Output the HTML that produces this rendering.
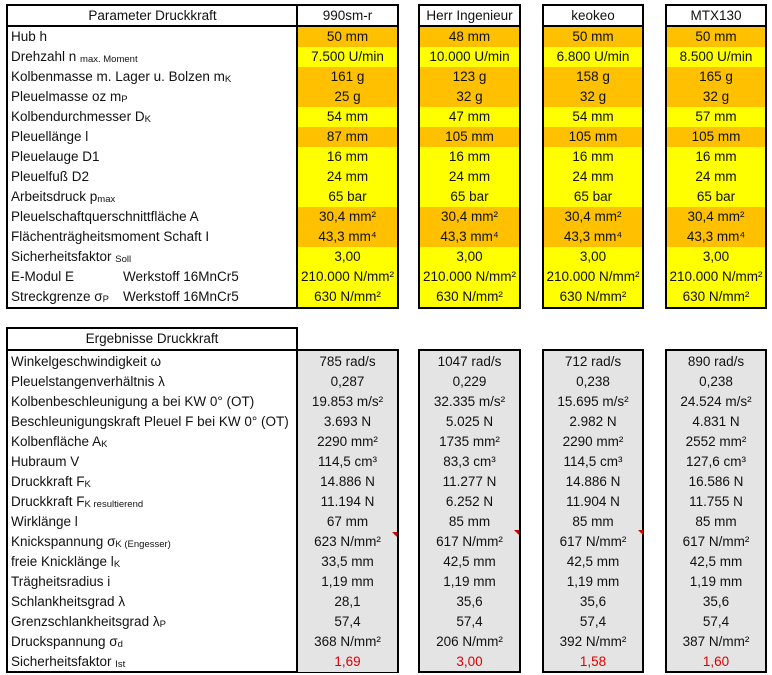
<!DOCTYPE html>
<html><head><meta charset="utf-8"><style>
body{margin:0;width:772px;height:675px;background:#fff;font-family:"Liberation Sans",sans-serif;font-size:13.5px;color:#111;position:relative;overflow:hidden}
.box{position:absolute;border:2px solid #000;box-sizing:border-box;overflow:hidden}
.r{height:20px;line-height:20px;white-space:nowrap;position:relative}
.c{text-align:center}
.l{padding-left:3px}
.o{background:#ffc000}.y{background:#ffff00}.g{background:#e4e4e4}
.hd{height:19px;line-height:19px;text-align:center;border-bottom:2px solid #000;background:#fff}
sub{font-size:9.5px;vertical-align:-1px}
.red{color:#e00000}
.w{position:absolute;left:115px;top:0}
.tri{position:absolute;width:0;height:0;border-top:5px solid #c00;border-left:5px solid transparent}
</style></head><body>
<div class="box" style="left:6px;top:4px;width:393px;height:305px"></div>
<div style="position:absolute;left:8px;top:6px;width:289px">
<div class="hd">Parameter Druckkraft</div>
<div class="r l">Hub h</div>
<div class="r l">Drehzahl n <sub>max. Moment</sub></div>
<div class="r l">Kolbenmasse m. Lager u. Bolzen m<sub>K</sub></div>
<div class="r l">Pleuelmasse oz m<sub>P</sub></div>
<div class="r l">Kolbendurchmesser D<sub>K</sub></div>
<div class="r l">Pleuellänge l</div>
<div class="r l">Pleuelauge D1</div>
<div class="r l">Pleuelfuß D2</div>
<div class="r l">Arbeitsdruck p<sub>max</sub></div>
<div class="r l">Pleuelschaftquerschnittfläche A</div>
<div class="r l">Flächenträgheitsmoment Schaft I</div>
<div class="r l">Sicherheitsfaktor <sub>Soll</sub></div>
<div class="r l">E-Modul E<span class="w">Werkstoff 16MnCr5</span></div>
<div class="r l">Streckgrenze σ<sub>P</sub><span class="w">Werkstoff 16MnCr5</span></div>
</div>
<div style="position:absolute;left:296px;top:4px;width:2px;height:305px;background:#000"></div>
<div style="position:absolute;left:298px;top:6px;width:99px">
<div class="hd">990sm-r</div>
<div class="r c o">50 mm</div><div class="r c y">7.500 U/min</div><div class="r c o">161 g</div><div class="r c o">25 g</div><div class="r c y">54 mm</div><div class="r c o">87 mm</div><div class="r c y">16 mm</div><div class="r c y">24 mm</div><div class="r c y">65 bar</div><div class="r c o">30,4 mm²</div><div class="r c o">43,3 mm⁴</div><div class="r c y">3,00</div><div class="r c y">210.000 N/mm²</div><div class="r c y">630 N/mm²</div>
</div>
<div class="box" style="left:418px;top:4px;width:103px;height:305px">
<div class="hd">Herr Ingenieur</div>
<div class="r c o">48 mm</div><div class="r c y">10.000 U/min</div><div class="r c o">123 g</div><div class="r c o">32 g</div><div class="r c y">47 mm</div><div class="r c o">105 mm</div><div class="r c y">16 mm</div><div class="r c y">24 mm</div><div class="r c y">65 bar</div><div class="r c o">30,4 mm²</div><div class="r c o">43,3 mm⁴</div><div class="r c y">3,00</div><div class="r c y">210.000 N/mm²</div><div class="r c y">630 N/mm²</div>
</div>
<div class="box" style="left:542px;top:4px;width:102px;height:305px">
<div class="hd">keokeo</div>
<div class="r c o">50 mm</div><div class="r c y">6.800 U/min</div><div class="r c o">158 g</div><div class="r c o">32 g</div><div class="r c y">54 mm</div><div class="r c o">105 mm</div><div class="r c y">16 mm</div><div class="r c y">24 mm</div><div class="r c y">65 bar</div><div class="r c o">30,4 mm²</div><div class="r c o">43,3 mm⁴</div><div class="r c y">3,00</div><div class="r c y">210.000 N/mm²</div><div class="r c y">630 N/mm²</div>
</div>
<div class="box" style="left:665px;top:4px;width:102px;height:305px">
<div class="hd">MTX130</div>
<div class="r c o">50 mm</div><div class="r c y">8.500 U/min</div><div class="r c o">165 g</div><div class="r c o">32 g</div><div class="r c y">57 mm</div><div class="r c o">105 mm</div><div class="r c y">16 mm</div><div class="r c y">24 mm</div><div class="r c y">65 bar</div><div class="r c o">30,4 mm²</div><div class="r c o">43,3 mm⁴</div><div class="r c y">3,00</div><div class="r c y">210.000 N/mm²</div><div class="r c y">630 N/mm²</div>
</div>

<div class="box" style="left:6px;top:327px;width:292px;height:24px;text-align:center;line-height:20px">Ergebnisse Druckkraft</div>
<div class="box" style="left:6px;top:349px;width:393px;height:324px"></div>
<div style="position:absolute;left:296px;top:349px;width:2px;height:324px;background:#000"></div>
<div style="position:absolute;left:8px;top:352px;width:288px">
<div class="r l">Winkelgeschwindigkeit ω</div>
<div class="r l">Pleuelstangenverhältnis λ</div>
<div class="r l">Kolbenbeschleunigung a bei KW 0° (OT)</div>
<div class="r l">Beschleunigungskraft Pleuel F bei KW 0° (OT)</div>
<div class="r l">Kolbenfläche A<sub>K</sub></div>
<div class="r l">Hubraum V</div>
<div class="r l">Druckkraft F<sub>K</sub></div>
<div class="r l">Druckkraft F<sub>K resultierend</sub></div>
<div class="r l">Wirklänge l</div>
<div class="r l">Knickspannung σ<sub>K (Engesser)</sub></div>
<div class="r l">freie Knicklänge l<sub>K</sub></div>
<div class="r l">Trägheitsradius i</div>
<div class="r l">Schlankheitsgrad λ</div>
<div class="r l">Grenzschlankheitsgrad λ<sub>P</sub></div>
<div class="r l">Druckspannung σ<sub>d</sub></div>
<div class="r l">Sicherheitsfaktor <sub>Ist</sub></div>
</div>
<div class="g" style="position:absolute;left:298px;top:351px;width:99px;height:320px;padding-top:1px">
<div class="r c">785 rad/s</div><div class="r c">0,287</div><div class="r c">19.853 m/s²</div><div class="r c">3.693 N</div><div class="r c">2290 mm²</div><div class="r c">114,5 cm³</div><div class="r c">14.886 N</div><div class="r c">11.194 N</div><div class="r c">67 mm</div><div class="r c">623 N/mm²</div><div class="r c">33,5 mm</div><div class="r c">1,19 mm</div><div class="r c">28,1</div><div class="r c">57,4</div><div class="r c">368 N/mm²</div><div class="r c red">1,69</div>
</div>
<div class="box g" style="left:418px;top:349px;width:103px;height:324px;padding-top:1px">
<div class="r c">1047 rad/s</div><div class="r c">0,229</div><div class="r c">32.335 m/s²</div><div class="r c">5.025 N</div><div class="r c">1735 mm²</div><div class="r c">83,3 cm³</div><div class="r c">11.277 N</div><div class="r c">6.252 N</div><div class="r c">85 mm</div><div class="r c">617 N/mm²</div><div class="r c">42,5 mm</div><div class="r c">1,19 mm</div><div class="r c">35,6</div><div class="r c">57,4</div><div class="r c">206 N/mm²</div><div class="r c red">3,00</div>
</div>
<div class="box g" style="left:542px;top:349px;width:102px;height:324px;padding-top:1px">
<div class="r c">712 rad/s</div><div class="r c">0,238</div><div class="r c">15.695 m/s²</div><div class="r c">2.982 N</div><div class="r c">2290 mm²</div><div class="r c">114,5 cm³</div><div class="r c">14.886 N</div><div class="r c">11.904 N</div><div class="r c">85 mm</div><div class="r c">617 N/mm²</div><div class="r c">42,5 mm</div><div class="r c">1,19 mm</div><div class="r c">35,6</div><div class="r c">57,4</div><div class="r c">392 N/mm²</div><div class="r c red">1,58</div>
</div>
<div class="box g" style="left:665px;top:349px;width:102px;height:324px;padding-top:1px">
<div class="r c">890 rad/s</div><div class="r c">0,238</div><div class="r c">24.524 m/s²</div><div class="r c">4.831 N</div><div class="r c">2552 mm²</div><div class="r c">127,6 cm³</div><div class="r c">16.586 N</div><div class="r c">11.755 N</div><div class="r c">85 mm</div><div class="r c">617 N/mm²</div><div class="r c">42,5 mm</div><div class="r c">1,19 mm</div><div class="r c">35,6</div><div class="r c">57,4</div><div class="r c">387 N/mm²</div><div class="r c red">1,60</div>
</div>
<div class="tri" style="left:392px;top:532px"></div>
<div class="tri" style="left:514px;top:530px"></div>
<div class="tri" style="left:638px;top:530px"></div>
</body></html>
